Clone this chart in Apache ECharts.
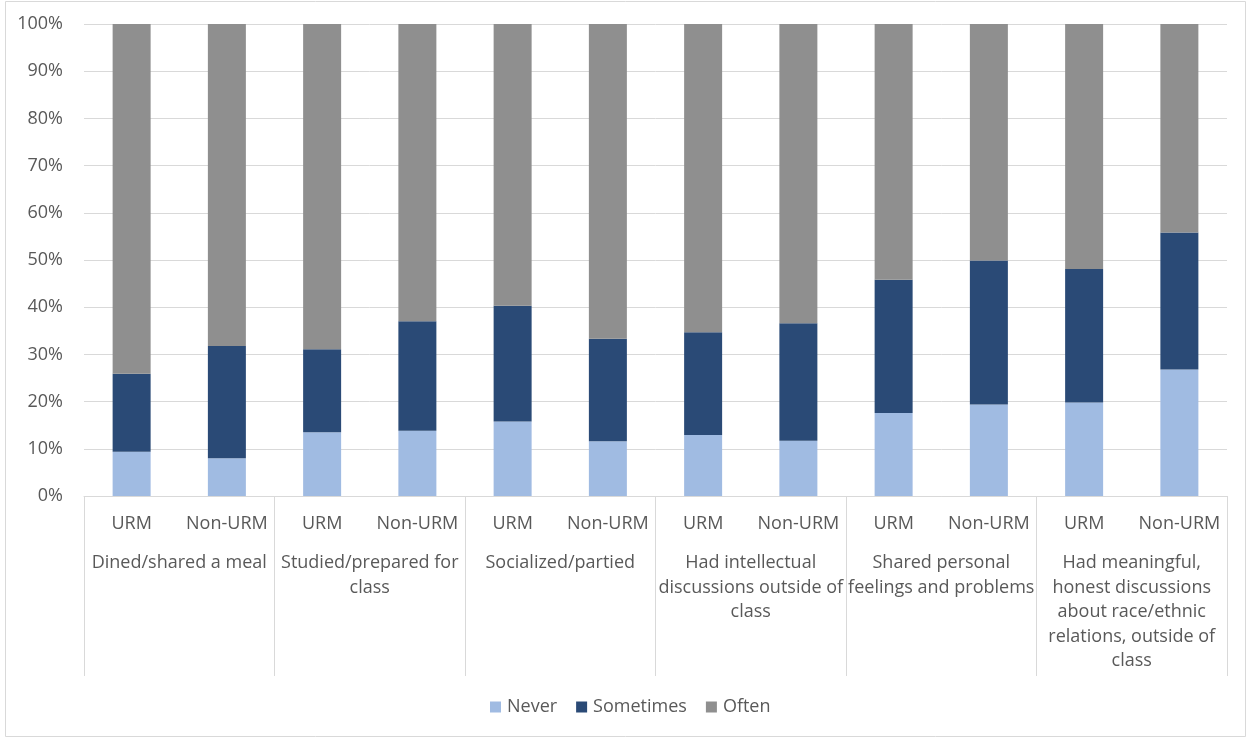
<!DOCTYPE html>
<html>
<head>
<meta charset="utf-8">
<script src="https://cdn.jsdelivr.net/npm/echarts@6/dist/echarts.min.js"></script>
<style>
html,body{margin:0;padding:0;background:#fff;}
#chart{width:1249px;height:739px;}
</style>
</head>
<body>
<div id="chart"></div>
<script>
const groups = [
  "Dined/shared a meal",
  "Studied/prepared for\nclass",
  "Socialized/partied",
  "Had intellectual\ndiscussions outside of\nclass",
  "Shared personal\nfeelings and problems",
  "Had meaningful,\nhonest discussions\nabout race/ethnic\nrelations, outside of\nclass"
];
const subCategories = ["URM","Non-URM","URM","Non-URM","URM","Non-URM","URM","Non-URM","URM","Non-URM","URM","Non-URM"];
const never =     [9.4, 8.0, 13.5, 13.8, 15.8, 11.6, 12.9, 11.7, 17.6, 19.4, 19.8, 26.8];
const sometimes = [16.5, 23.8, 17.6, 23.2, 24.5, 21.7, 21.8, 24.9, 28.2, 30.5, 28.3, 29.0];
const often =     [74.1, 68.2, 68.9, 63.0, 59.7, 66.7, 65.3, 63.4, 54.2, 50.1, 51.9, 44.2];
const yTicks = [0,10,20,30,40,50,60,70,80,90,100];

const font = "'Open Sans', sans-serif";
const txt = '#595959';
const grey = '#d9d9d9';

const chart = echarts.init(document.getElementById('chart'), null, {renderer:'canvas'});
chart.setOption({
  animation:false,
  backgroundColor:'#fff',
  textStyle:{fontFamily:font},
  graphic:[{
    type:'rect', shape:{x:5.5,y:1.5,width:1240,height:735},
    style:{fill:'none',stroke:grey,lineWidth:1}, silent:true
  }],
  grid:{left:84,right:22,top:24,bottom:243,containLabel:false},
  legend:{
    left:490, top:698, padding:0, icon:'rect', itemWidth:11, itemHeight:11, itemGap:19,
    textStyle:{fontFamily:font,fontSize:18,color:txt,padding:[0,0,0,1]},
    data:['Never','Sometimes','Often']
  },
  xAxis:[{
    type:'category', data:subCategories, position:'bottom',
    axisLine:{show:true,lineStyle:{color:grey,width:1}},
    axisTick:{show:false},
    axisLabel:{interval:0,fontFamily:font,fontSize:18,color:txt,margin:16,lineHeight:24}
  },{
    type:'category', data:groups, position:'bottom', offset:0,
    axisLine:{show:false},
    axisTick:{show:true,length:180,interval:0,lineStyle:{color:grey,width:1}},
    axisLabel:{interval:0,fontFamily:font,fontSize:18,color:txt,margin:55,lineHeight:24.5,align:'center'}
  }],
  yAxis:{
    type:'value', min:0, max:100, interval:10,
    axisLine:{show:false}, axisTick:{show:false},
    splitLine:{lineStyle:{color:grey,width:1}},
    axisLabel:{fontFamily:font,fontSize:18,color:txt,margin:21,
      formatter:v=> yTicks.includes(v) ? v+'%' : ''}
  },
  series:[
    {name:'Never',type:'bar',stack:'s',barWidth:38,data:never,itemStyle:{color:'#a0bbe2'},xAxisIndex:0},
    {name:'Sometimes',type:'bar',stack:'s',barWidth:38,data:sometimes,itemStyle:{color:'#2a4a76'},xAxisIndex:0},
    {name:'Often',type:'bar',stack:'s',barWidth:38,data:often,itemStyle:{color:'#8f8f8f'},xAxisIndex:0}
  ]
});
</script>
</body>
</html>
